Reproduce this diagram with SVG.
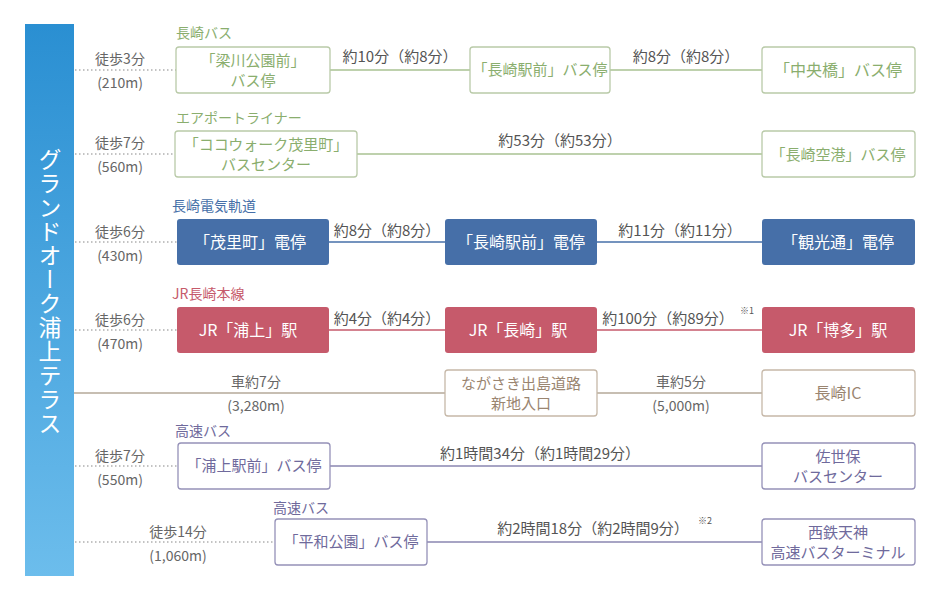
<svg xmlns="http://www.w3.org/2000/svg" width="948" height="590" viewBox="0 0 948 590">
<defs>
<linearGradient id="bg" x1="0" y1="0" x2="0" y2="1"><stop offset="0" stop-color="#2a8fd2"/><stop offset="1" stop-color="#6cbdec"/></linearGradient>
</defs>
<style>
text{font-family:"Noto Sans CJK JP","Noto Sans",sans-serif;}
.w{font-size:14px;fill:#666;text-anchor:middle}
.t{font-size:15px;text-anchor:middle}
.n{font-size:16px;text-anchor:middle}
.n2{font-size:15px;text-anchor:middle}
.h{font-size:14px}
.g{fill:#8aae6e}.gb{fill:#fff;stroke:#b9caa8;stroke-width:1.3}.gl{stroke:#a9c292;stroke-width:1.3}
.b{fill:#466fa8}.bl{stroke:#466fa8;stroke-width:1.3}
.r{fill:#c65a6b}.rl{stroke:#c65a6b;stroke-width:1.3}
.p{fill:#6f6a9c}.pb{fill:#fff;stroke:#9591b8;stroke-width:1.3}.pl{stroke:#8a86b0;stroke-width:1.3}
.c{fill:#9a8570}.cb{fill:#fff;stroke:#c6b8a8;stroke-width:1.3}.cl{stroke:#b4a898;stroke-width:1.3}
.d{stroke:#888;stroke-width:1.2;stroke-dasharray:1.5 2.5}
.wt{fill:#fff}
.k{fill:#555}
</style>
<g id="start"><rect x="25" y="24" width="49" height="552" fill="url(#bg)"/>
<text x="50" y="292" font-size="23" fill="#fff" text-anchor="middle" writing-mode="vertical-rl" letter-spacing="1">グランドオーク浦上テラス</text></g>
<g id="connectors">
<line class="d" x1="75" y1="70" x2="176" y2="70"/>
<line class="d" x1="75" y1="154" x2="175" y2="154"/>
<line class="d" x1="75" y1="242" x2="177" y2="242"/>
<line class="d" x1="75" y1="330" x2="177" y2="330"/>
<line class="d" x1="75" y1="466" x2="178" y2="466"/>
<line class="d" x1="75" y1="542" x2="275" y2="542"/>
<line class="gl" x1="330" y1="70" x2="470" y2="70"/><line class="gl" x1="610" y1="70" x2="762" y2="70"/>
<line class="gl" x1="357" y1="154" x2="762" y2="154"/>
<line class="bl" x1="329" y1="242" x2="445" y2="242"/><line class="bl" x1="597" y1="242" x2="762" y2="242"/>
<line class="rl" x1="329" y1="330" x2="445" y2="330"/><line class="rl" x1="597" y1="330" x2="762" y2="330"/>
<line class="cl" x1="74" y1="393" x2="445" y2="393"/><line class="cl" x1="597" y1="393" x2="762" y2="393"/>
<line class="pl" x1="330" y1="466" x2="762" y2="466"/>
<line class="pl" x1="427" y1="542" x2="762" y2="542"/>
</g>
<g id="labels">
<text class="w" x="120" y="64">徒歩3分</text><text class="w" x="120" y="88">(210m)</text>
<text class="w" x="120" y="148">徒歩7分</text><text class="w" x="120" y="172">(560m)</text>
<text class="w" x="120" y="237">徒歩6分</text><text class="w" x="120" y="261">(430m)</text>
<text class="w" x="120" y="325">徒歩6分</text><text class="w" x="120" y="349">(470m)</text>
<text class="w" x="120" y="461">徒歩7分</text><text class="w" x="120" y="485">(550m)</text>
<text class="w" x="178" y="537">徒歩14分</text><text class="w" x="178" y="561">(1,060m)</text>
<text class="w" x="256" y="387">車約7分</text><text class="w" x="256" y="411">(3,280m)</text>
<text class="w" x="681" y="387">車約5分</text><text class="w" x="681" y="411">(5,000m)</text>
<text class="h g" x="176" y="38">長崎バス</text>
<text class="h g" x="176" y="123">エアポートライナー</text>
<text class="h b" x="172" y="211">長崎電気軌道</text>
<text class="h r" x="172" y="299">JR長崎本線</text>
<text class="h p" x="175" y="436">高速バス</text>
<text class="h p" x="273" y="513">高速バス</text>
<text class="t k" x="400" y="62">約10分（約8分）</text>
<text class="t k" x="686" y="62">約8分（約8分）</text>
<text class="t k" x="560" y="146">約53分（約53分）</text>
<text class="t k" x="387" y="236">約8分（約8分）</text>
<text class="t k" x="680" y="236">約11分（約11分）</text>
<text class="t k" x="387" y="324">約4分（約4分）</text>
<text class="t k" x="668" y="324">約100分（約89分）</text><text x="740" y="314" font-size="9" fill="#555">※1</text>
<text class="t k" x="540" y="459">約1時間34分（約1時間29分）</text>
<text class="t k" x="593" y="534">約2時間18分（約2時間9分）</text><text x="698" y="524" font-size="9" fill="#555">※2</text>
</g>
<g id="n1a"><rect class="gb" x="176" y="47" width="154" height="46" rx="3"/><text class="n2 g" x="253" y="66">「梁川公園前」</text><text class="n2 g" x="253" y="86">バス停</text></g>
<g id="n1b"><rect class="gb" x="470" y="47" width="140" height="46" rx="3"/><text class="n2 g" x="540" y="75">「長崎駅前」バス停</text></g>
<g id="n1c"><rect class="gb" x="762" y="47" width="153" height="46" rx="3"/><text class="n g" x="838" y="76">「中央橋」バス停</text></g>
<g id="n2a"><rect class="gb" x="175" y="131" width="182" height="46" rx="3"/><text class="n2 g" x="266" y="150">「ココウォーク茂里町」</text><text class="n2 g" x="266" y="170">バスセンター</text></g>
<g id="n2b"><rect class="gb" x="762" y="131" width="153" height="46" rx="3"/><text class="n2 g" x="838" y="160">「長崎空港」バス停</text></g>
<g id="n3a"><rect class="b" x="177" y="219" width="152" height="46" rx="3"/><text class="n wt" x="250" y="248">「茂里町」電停</text></g>
<g id="n3b"><rect class="b" x="445" y="219" width="152" height="46" rx="3"/><text class="n wt" x="521" y="248">「長崎駅前」電停</text></g>
<g id="n3c"><rect class="b" x="762" y="219" width="153" height="46" rx="3"/><text class="n wt" x="838" y="248">「観光通」電停</text></g>
<g id="n4a"><rect class="r" x="177" y="307" width="152" height="46" rx="3"/><text class="n wt" x="248" y="336">JR「浦上」駅</text></g>
<g id="n4b"><rect class="r" x="445" y="307" width="152" height="46" rx="3"/><text class="n wt" x="518" y="336">JR「長崎」駅</text></g>
<g id="n4c"><rect class="r" x="762" y="307" width="153" height="46" rx="3"/><text class="n wt" x="838" y="336">JR「博多」駅</text></g>
<g id="n5a"><rect class="cb" x="445" y="370" width="152" height="46" rx="3"/><text class="n2 c" x="521" y="389">ながさき出島道路</text><text class="n2 c" x="521" y="409">新地入口</text></g>
<g id="n5b"><rect class="cb" x="762" y="370" width="153" height="46" rx="3"/><text class="n c" x="838" y="399">長崎IC</text></g>
<g id="n6a"><rect class="pb" x="178" y="443" width="152" height="46" rx="3"/><text class="n2 p" x="254" y="471">「浦上駅前」バス停</text></g>
<g id="n6b"><rect class="pb" x="762" y="443" width="153" height="46" rx="3"/><text class="n2 p" x="838" y="462">佐世保</text><text class="n2 p" x="838" y="482">バスセンター</text></g>
<g id="n7a"><rect class="pb" x="275" y="519" width="152" height="46" rx="3"/><text class="n2 p" x="351" y="547">「平和公園」バス停</text></g>
<g id="n7b"><rect class="pb" x="762" y="519" width="153" height="46" rx="3"/><text class="n2 p" x="838" y="538">西鉄天神</text><text class="n2 p" x="838" y="558">高速バスターミナル</text></g>
</svg>
